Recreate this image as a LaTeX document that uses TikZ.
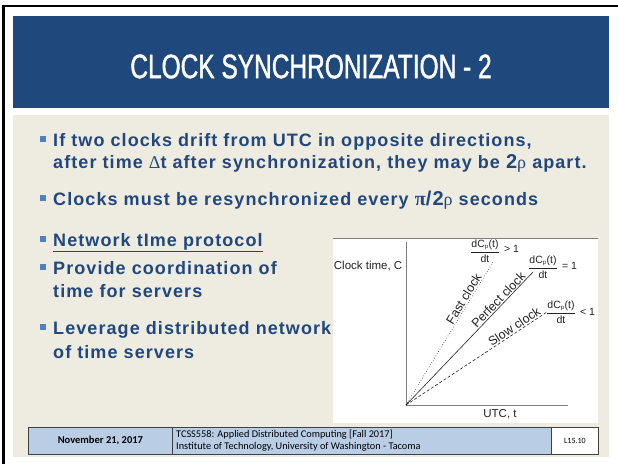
\documentclass[tikz,border=0pt]{standalone}
\usepackage{fontspec}
\setmainfont{Liberation Sans}
\newfontfamily\titlefont[FakeStretch=0.72,FakeBold=1.2]{Liberation Sans}
\newfontfamily\bodyfont[LetterSpace=6]{Liberation Sans}
\newfontfamily\greekfont{Liberation Serif}
\newfontfamily\footfont{Carlito}
\definecolor{titleblue}{HTML}{1F497D}
\definecolor{slidebeige}{HTML}{EEECE1}
\definecolor{bodyblue}{HTML}{21477C}
\definecolor{bulletblue}{HTML}{4F81BD}
\definecolor{footblue}{HTML}{B9CDE5}
\definecolor{chartink}{HTML}{222222}
\definecolor{axisgray}{HTML}{7F7F7F}
\newcommand{\dcdt}{$\displaystyle\frac{\mbox{dC}_{\mbox{\fontsize{6}{6}\selectfont p}}\mbox{(t)}}{\mbox{dt}}$}
\begin{document}
\begin{tikzpicture}[x=1pt,y=-1pt,
  bodytext/.style={anchor=base west, inner sep=0pt, text=bodyblue,
    font=\bodyfont\bfseries\fontsize{18}{20}\selectfont},
  bulletsq/.style={fill=bulletblue, minimum size=6pt, inner sep=0pt},
  charttext/.style={text=chartink, font=\fontsize{11.5}{12}\selectfont, inner sep=1.5pt},
  clocklabel/.style={text=chartink, font=\fontsize{12.5}{13}\selectfont, inner sep=1pt},
  fractext/.style={text=chartink, font=\fontsize{10.5}{11}\selectfont, inner sep=0pt},
  clockline/.style={chartink, line width=0.6pt},
  footbox/.style={draw=black!75, line width=0.8pt, minimum height=27pt, anchor=north west, inner sep=0pt}
]
\useasboundingbox (0,0) rectangle (618,464);
\fill[white] (0,0) rectangle (618,464);

% slide frame
\draw[line width=2.5pt] (3.5,464) -- (3.5,6) -- (618,6);

% title band
\fill[titleblue] (13,16) rectangle (609,108);
\node[text=white, font=\titlefont\fontsize{34}{36}\selectfont] (title) at (311,66.5) {CLOCK SYNCHRONIZATION - 2};

% content area
\fill[slidebeige] (13,115) rectangle (609,457);

% bullet points
\node[bulletsq] (b1) at (43,139) {};
\node[bodytext] (t1) at (53,146) {If two clocks drift from UTC in opposite directions,};
\node[bodytext] (t1b) at (53,168) {after time {\greekfont\mdseries Δ}t after synchronization, they may be {\fontsize{20}{20}\selectfont 2}{\greekfont\mdseries ρ} apart.};
\node[bulletsq] (b2) at (43,198) {};
\node[bodytext] (t2) at (53,205) {Clocks must be resynchronized every {\greekfont\fontsize{20}{20}\selectfont π}{\fontsize{20}{20}\selectfont /2}{\greekfont\mdseries ρ} seconds};
\node[bulletsq] (b3) at (43,239) {};
\node[bodytext] (t3) at (53,246) {\underline{Network tIme protocol}};
\node[bulletsq] (b4) at (43,267) {};
\node[bodytext] (t4) at (53,274) {Provide coordination of};
\node[bodytext] (t4b) at (53,297) {time for servers};
\node[bulletsq] (b5) at (43,327) {};
\node[bodytext] (t5) at (53,334) {Leverage distributed network};
\node[bodytext] (t5b) at (53,358) {of time servers};

% clock drift chart
\fill[white] (333,238) rectangle (598,423);
\draw[axisgray, line width=0.6pt] (333,238.5) -- (598,238.5);
\coordinate (O) at (406,405);
\coordinate (ytop) at (406,242);
\coordinate (xend) at (568,405);
\coordinate (fastend) at (493,262);
\coordinate (perfend) at (533,272);
\coordinate (slowend) at (547,312);
\draw[axisgray, line width=0.8pt] (ytop) -- (O) -- (xend);
\node[charttext, anchor=east] (ylab) at (404,266) {Clock time, C};
\node[charttext] (xlab) at (500,414) {UTC, t};

\draw[clockline, dotted] (O) -- node[clocklabel, pos=0.72, sloped, above] (fastlab) {Fast clock} (fastend);
\draw[clockline] (O) -- node[clocklabel, pos=0.76, sloped, above] (perflab) {Perfect clock} (perfend);
\draw[clockline, dash pattern=on 3pt off 2pt] (O) -- node[clocklabel, pos=0.79, sloped, above] (slowlab) {Slow clock} (slowend);

\node[fractext] (f1) at (485,251) {\dcdt};
\node[fractext, anchor=west] (r1) at ([xshift=4pt,yshift=2pt]f1.east) {> 1};
\node[fractext] (f2) at (543,267) {\dcdt};
\node[fractext, anchor=west] (r2) at ([xshift=4pt,yshift=1pt]f2.east) {= 1};
\node[fractext] (f3) at (561,312) {\dcdt};
\node[fractext, anchor=west] (r3) at ([xshift=4pt]f3.east) {< 1};

% footer
\node[footbox, fill=footblue, minimum width=144pt] (date) at (28,427) {};
\node[font=\footfont\bfseries\fontsize{10.5}{12}\selectfont] (datetext) at (date.center) {November 21, 2017};
\node[footbox, fill=footblue, minimum width=379pt] (course) at (172,427) {};
\node[anchor=west, align=left, inner sep=0pt, font=\footfont\fontsize{10.3}{11.5}\selectfont] (coursetext) at ([xshift=4pt]course.west) {TCSS558: Applied Distributed Computing [Fall 2017]\\Institute of Technology, University of Washington - Tacoma};
\node[footbox, fill=white, minimum width=47pt] (slideno) at (551,427) {};
\node[font=\footfont\fontsize{8}{9}\selectfont] (slidenotext) at (slideno.center) {L15.10};
\end{tikzpicture}
\end{document}
